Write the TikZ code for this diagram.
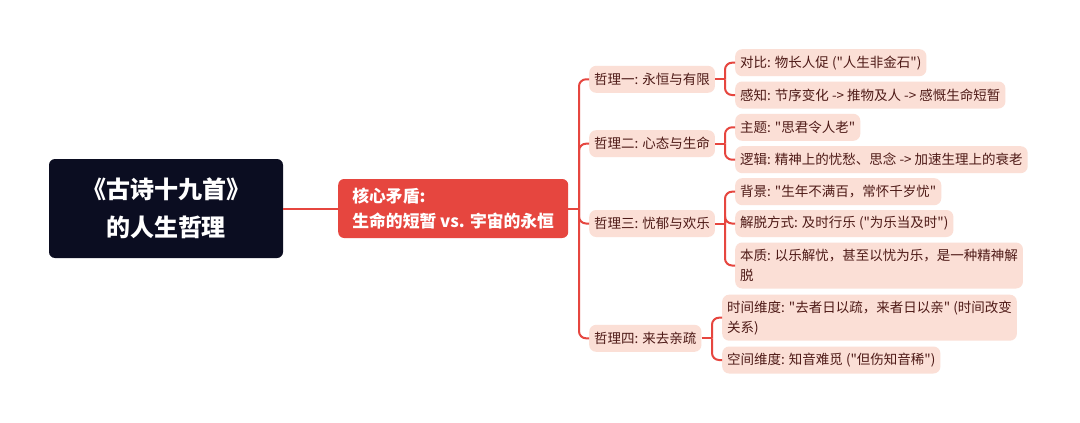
\documentclass[tikz,border=0pt]{standalone}
\usepackage{fontspec}
\newfontfamily\cjkfont{Noto Sans CJK SC}
\definecolor{navy}{HTML}{0B0D21}
\definecolor{redc}{HTML}{E6463F}
\definecolor{pinkf}{HTML}{FBDFD6}
\definecolor{pinkt}{HTML}{4E1A17}
\tikzset{
  every node/.style={font=\cjkfont},
  rootbox/.style={fill=navy, text=white, rounded corners=6pt, font=\cjkfont\fontsize{24}{38}\selectfont\bfseries, align=center, minimum width=234pt, minimum height=99pt, inner sep=0pt},
  corebox/.style={fill=redc, text=white, rounded corners=6pt, font=\cjkfont\fontsize{16.8}{25}\selectfont\bfseries, align=left, inner xsep=12pt, inner ysep=0pt, minimum width=230pt, minimum height=59pt, anchor=west},
  leafbox/.style={fill=pinkf, text=pinkt, rounded corners=7pt, font=\cjkfont\fontsize{13.5}{20}\selectfont, align=left, inner xsep=5pt, inner ysep=0pt, minimum height=27pt, anchor=west},
  link/.style={draw=redc, line width=2pt},
  curvelink/.style={link, rounded corners=7pt}
}
\begin{document}
\begin{tikzpicture}[x=1pt,y=-1pt]
\useasboundingbox[fill=white] (0,0) rectangle (1080,423);
\node[rootbox] (root) at (166,208.5) {《古诗十九首》\\的人生哲理};
\node[corebox] (core) at (338,208.5) {核心矛盾:\\生命的短暂 vs. 宇宙的永恒};
% branches
\node[leafbox] (b1) at (589,79.3) {哲理一: 永恒与有限};
\node[leafbox] (b2) at (589,143.7) {哲理二: 心态与生命};
\node[leafbox] (b3) at (589,223.5) {哲理三: 忧郁与欢乐};
\node[leafbox] (b4) at (589,338.3) {哲理四: 来去亲疏};
% leaves
\node[leafbox] (c11) at (735,62.7) {对比: 物长人促 ("人生非金石")};
\node[leafbox] (c12) at (735,95) {感知: 节序变化 -> 推物及人 -> 感慨生命短暂};
\node[leafbox] (c21) at (735,127.3) {主题: "思君令人老"};
\node[leafbox] (c22) at (735,159.7) {逻辑: 精神上的忧愁、思念 -> 加速生理上的衰老};
\node[leafbox] (c31) at (735,191.7) {背景: "生年不满百，常怀千岁忧"};
\node[leafbox] (c32) at (735,223.5) {解脱方式: 及时行乐 ("为乐当及时")};
\node[leafbox, minimum height=46pt] (c33) at (735,265.5) {本质: 以乐解忧，甚至以忧为乐，是一种精神解\\脱};
\node[leafbox, minimum height=46pt] (c41) at (722,317.7) {时间维度: "去者日以疏，来者日以亲" (时间改变\\关系)};
\node[leafbox] (c42) at (722,360) {空间维度: 知音难觅 ("但伤知音稀")};
% connectors
\draw[link] (root.east) -- (core.west);
\coordinate (t) at (579,208.5);
\draw[link] (core.east) -- (t);
\foreach \b in {b1,b2,b3,b4} \draw[curvelink] (t) |- (\b.west);
\coordinate (s1) at (725,79.3);
\coordinate (s2) at (725,143.7);
\coordinate (s3) at (725,223.5);
\coordinate (s4) at (712,338.3);
\draw[link] (b1.east) -- (s1);
\draw[link] (b2.east) -- (s2);
\draw[link] (b3.east) -- (s3);
\draw[link] (b4.east) -- (s4);
\foreach \c in {c11,c12} \draw[curvelink] (s1) |- (\c.west);
\foreach \c in {c21,c22} \draw[curvelink] (s2) |- (\c.west);
\foreach \c in {c31,c32,c33} \draw[curvelink] (s3) |- (\c.west);
\foreach \c in {c41,c42} \draw[curvelink] (s4) |- (\c.west);
\end{tikzpicture}
\end{document}
